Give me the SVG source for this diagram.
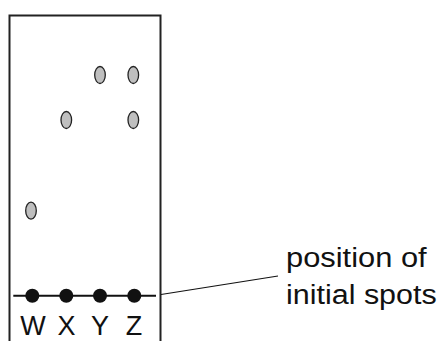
<svg xmlns="http://www.w3.org/2000/svg" width="441" height="341" viewBox="0 0 441 341">
<style>
.spot{fill:#bfbfbf;stroke:#222;stroke-width:1.3}
.dot{fill:#111}
.lbl{font-family:"Liberation Sans",Arial,sans-serif;font-size:27px;fill:#111}
.lane{text-anchor:middle}
</style>
<rect width="441" height="341" fill="#fff"/>
<g id="plate">
<path d="M9.5,345 V15.5 H160.5 V345" fill="none" stroke="#222" stroke-width="2"/>
</g>
<g id="spots">
<ellipse class="spot" cx="100" cy="75" rx="5.3" ry="8.5"/>
<ellipse class="spot" cx="133.3" cy="75" rx="5.3" ry="8.5"/>
<ellipse class="spot" cx="66.3" cy="120" rx="5.3" ry="8.5"/>
<ellipse class="spot" cx="133.3" cy="120" rx="5.3" ry="8.5"/>
<ellipse class="spot" cx="31" cy="210.7" rx="5.3" ry="8.5"/>
</g>
<g id="origin">
<line x1="13.3" y1="295.7" x2="156" y2="295.7" stroke="#111" stroke-width="2"/>
<circle class="dot" cx="32.3" cy="295.7" r="7"/>
<circle class="dot" cx="66.3" cy="295.7" r="7"/>
<circle class="dot" cx="100" cy="295.7" r="7"/>
<circle class="dot" cx="134.3" cy="295.7" r="7"/>
</g>
<g id="lanes">
<text class="lbl lane" x="33" y="335">W</text>
<text class="lbl lane" x="66.5" y="335">X</text>
<text class="lbl lane" x="100" y="335">Y</text>
<text class="lbl lane" x="134" y="335">Z</text>
</g>
<g id="connectors">
<line x1="161" y1="294.5" x2="278" y2="276" stroke="#111" stroke-width="1.2"/>
</g>
<g id="label">
<text class="lbl" x="286" y="266.5" textLength="140.7" lengthAdjust="spacingAndGlyphs">position of</text>
<text class="lbl" x="286" y="304" textLength="150.7" lengthAdjust="spacingAndGlyphs">initial spots</text>
</g>
</svg>
